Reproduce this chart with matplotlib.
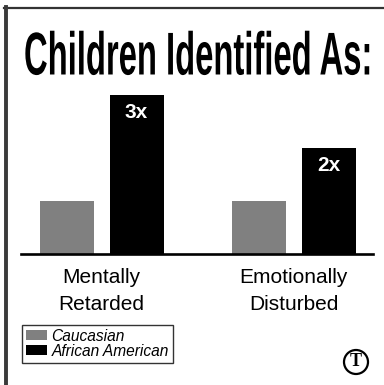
import matplotlib
matplotlib.use("Agg")
import matplotlib.pyplot as plt
from matplotlib.lines import Line2D
from matplotlib.patches import Circle
from matplotlib import patheffects
from matplotlib.transforms import Affine2D

categories = ["Mentally\nRetarded", "Emotionally\nDisturbed"]
series_names = ["Caucasian", "African American"]
caucasian = [1, 1]
african_american = [3, 2]
bar_labels = ["3x", "2x"]
title = "Children Identified As:"

W, H = 384, 385
fig = plt.figure(figsize=(W / 100, H / 100), dpi=100)
fig.patch.set_facecolor("white")


def px(x, y):
    return x / W, 1 - y / H


class Stretch(patheffects.AbstractPathEffect):
    """Scale glyph outlines around an anchor point (display pixels)."""
    def __init__(self, sx, sy, cx, cy):
        super().__init__()
        self.sx, self.sy, self.cx, self.cy = sx, sy, cx, cy

    def draw_path(self, renderer, gc, tpath, affine, rgbFace=None):
        t = affine + Affine2D().translate(-self.cx, -self.cy).scale(self.sx, self.sy).translate(self.cx, self.cy)
        renderer.draw_path(gc, tpath, t, rgbFace)


# axes: x from px 21 to 373, y baseline at 254, top at 95
left, right = 21, 373
base, top = 254, 95
ax = fig.add_axes([left / W, 1 - base / H, (right - left) / W, (base - top) / H])
ax.set_facecolor("none")
gc = 101.75
unit = 192.0
ax.set_xlim((left - gc) / unit, (right - gc) / unit)
ax.set_ylim(0, 3)
width = 54 / unit
off = 34.75 / unit
xs = range(len(categories))
b1 = ax.bar([x - off for x in xs], caucasian, width=width, color="#808080", label=series_names[0])
b2 = ax.bar([x + off for x in xs], african_american, width=width, color="#000000", label=series_names[1])
for rect, lab in zip(b2, bar_labels):
    ax.text(rect.get_x() + rect.get_width() / 2, rect.get_height() - 0.16, lab,
            ha="center", va="top", color="white", fontsize=15, fontweight="bold",
            family="Liberation Sans")
for s in ["top", "left", "right"]:
    ax.spines[s].set_visible(False)
ax.spines["bottom"].set_linewidth(1.9)
ax.spines["bottom"].set_color("black")
ax.set_yticks([])
ax.set_xticks(list(xs))
ax.set_xticklabels(categories, fontsize=15, family="Liberation Sans", linespacing=1.55)
ax.tick_params(axis="x", length=0, pad=10)

# title: a condensed look, spanning px 24..372 with tall capitals
tx, tbase = 198, 74.5
target_size = 43.5
ttl = fig.text(tx / W, 1 - tbase / H, title, ha="center", va="baseline", fontsize=target_size,
               fontweight="bold", family="Liberation Sans", color="black")
renderer = fig.canvas.get_renderer()
tw = ttl.get_window_extent(renderer).width
fs = target_size * 348.0 / tw
ttl.set_fontsize(fs)
tw2 = ttl.get_window_extent(renderer).width
ttl.set_path_effects([Stretch(348.0 / tw2, target_size / fs, tx, H - tbase)])

# legend
leg = fig.legend(handles=[b1, b2], labels=series_names, loc="upper left",
                 bbox_to_anchor=(22 / W, 1 - 325 / H), bbox_transform=fig.transFigure,
                 fancybox=False, frameon=True, edgecolor="black", borderaxespad=0,
                 prop={"family": "Liberation Sans", "style": "italic", "size": 11.2},
                 handlelength=1.35, handleheight=0.6, handletextpad=0.3,
                 labelspacing=0.0, borderpad=0.25)
leg.get_frame().set_linewidth(1.0)

# frame lines
fig.add_artist(Line2D([px(4, 0)[0], 1], [px(0, 8)[1]] * 2, color="#333333", lw=1.6, transform=fig.transFigure))
fig.add_artist(Line2D([px(6, 0)[0]] * 2, [px(0, 7)[1], 0], color="#3a3a3a", lw=2.8, transform=fig.transFigure))

# logo
cx, cy = px(356, 362)
fig.add_artist(Circle((356, H - 362), 12, transform=None, fill=False, lw=1.6, color="black"))
fig.text(cx, cy, "T", ha="center", va="center", fontsize=13, family="Liberation Serif", fontweight="bold")

fig.savefig("out.png", dpi=100, facecolor="white")
